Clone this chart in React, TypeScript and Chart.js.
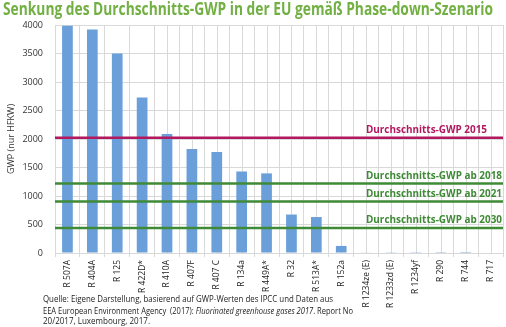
import React, { useEffect, useRef } from "react";
import { Chart, registerables } from "chart.js";

Chart.register(...registerables);

const chartTitle = "Senkung des Durchschnitts-GWP in der EU gemäß Phase-down-Szenario";
const categories = [
  "R 507A", "R 404A", "R 125", "R 422D*", "R 410A", "R 407F", "R 407 C", "R 134a", "R 449A*",
  "R 32", "R 513A*", "R 152a", "R 1234ze (E)", "R 1233zd (E)", "R 1234yf", "R 290", "R 744", "R 717",
];
const gwpValues = [3985, 3922, 3500, 2729, 2088, 1825, 1774, 1430, 1397, 675, 631, 124, 7, 5, 4, 3, 1, 0];
const yAxisTitle = "GWP (nur HFKW)";
const avgLabels = [
  "Durchschnitts-GWP 2015",
  "Durchschnitts-GWP ab 2018",
  "Durchschnitts-GWP ab 2021",
  "Durchschnitts-GWP ab 2030",
];
const avgValues = [2020, 1220, 905, 440];
const sourceLines: { text: string; italic?: boolean }[][] = [
  [{ text: "Quelle: Eigene Darstellung, basierend auf GWP-Werten des IPCC und Daten aus" }],
  [
    { text: "EEA European Environment Agency  (2017): " },
    { text: "Fluorinated greenhouse gases 2017", italic: true },
    { text: ". Report No" },
  ],
  [{ text: "20/2017, Luxembourg, 2017." }],
];

const BAR_COLOR = "#6b9fd9";
const GRID_COLOR = "#d9d9d9";
const AVG_COLORS = ["#b3185f", "#3f8a36", "#3f8a36", "#3f8a36"];
const TITLE_COLOR = "#72b043";
const FONT = '"Open Sans", sans-serif';

function drawFitted(
  ctx: CanvasRenderingContext2D,
  segs: { text: string; font: string }[],
  x: number,
  y: number,
  width: number,
  color: string
) {
  ctx.save();
  let total = 0;
  const ws = segs.map((s) => {
    ctx.font = s.font;
    const w = ctx.measureText(s.text).width;
    total += w;
    return w;
  });
  ctx.translate(x, y);
  ctx.scale(width / total, 1);
  ctx.fillStyle = color;
  ctx.textBaseline = "alphabetic";
  ctx.textAlign = "left";
  let cx = 0;
  segs.forEach((s, i) => {
    ctx.font = s.font;
    ctx.fillText(s.text, cx, 0);
    cx += ws[i];
  });
  ctx.restore();
}

const extraPlugin = {
  id: "extras",
  beforeDatasetsDraw(chart: any) {
    const { ctx, chartArea, scales } = chart;
    const xs = scales.x;
    ctx.save();
    ctx.strokeStyle = GRID_COLOR;
    ctx.lineWidth = 1;
    for (let i = 4; i < categories.length; i++) {
      const px = Math.round(xs.getPixelForValue(i)) + 0.5;
      ctx.beginPath();
      ctx.moveTo(px, chartArea.top);
      ctx.lineTo(px, chartArea.bottom);
      ctx.stroke();
    }
    ctx.restore();
  },
  afterDraw(chart: any) {
    const { ctx, chartArea, scales } = chart;
    const ys = scales.y;
    ctx.save();
    avgValues.forEach((v, i) => {
      const py = ys.getPixelForValue(v);
      ctx.strokeStyle = AVG_COLORS[i];
      ctx.lineWidth = 2.5;
      ctx.beginPath();
      ctx.moveTo(chartArea.left, py);
      ctx.lineTo(chartArea.right, py);
      ctx.stroke();
      const right = i === 0 ? 487 : 502;
      const w = i === 0 ? 121 : 136;
      drawFitted(ctx, [{ text: avgLabels[i], font: `bold 10px ${FONT}` }], right - w, py - 4.5, w, AVG_COLORS[i]);
    });
    drawFitted(ctx, [{ text: chartTitle, font: `bold 17px ${FONT}` }], 3, 15, 490, TITLE_COLOR);
    const widths = [290, 310, 107];
    const baselines = [302, 313.5, 324];
    sourceLines.forEach((line, i) => {
      drawFitted(
        ctx,
        line.map((s) => ({ text: s.text, font: `${s.italic ? "italic " : ""}9px ${FONT}` })),
        43,
        baselines[i],
        widths[i],
        "#222"
      );
    });
    ctx.restore();
  },
};

export default function App() {
  const ref = useRef<HTMLCanvasElement>(null);
  useEffect(() => {
    if (!ref.current) return;
    const chart = new Chart(ref.current, {
      type: "bar",
      data: {
        labels: categories,
        datasets: [
          {
            data: gwpValues,
            backgroundColor: BAR_COLOR,
            borderWidth: 0,
            barPercentage: 0.43,
            categoryPercentage: 1,
          },
        ],
      },
      options: {
        animation: false,
        responsive: false,
        maintainAspectRatio: false,
        layout: { padding: { top: 25, right: 3, left: 0, bottom: 0 } },
        plugins: { legend: { display: false }, tooltip: { enabled: false }, title: { display: false } },
        scales: {
          x: {
            grid: { color: GRID_COLOR, tickLength: 4, offset: true },
            border: { color: GRID_COLOR },
            ticks: {
              autoSkip: false,
              minRotation: 90,
              maxRotation: 90,
              padding: 3,
              color: "#222",
              font: { family: FONT, size: 8.5 },
            },
            afterFit: (s: any) => {
              s.height = 74;
            },
          },
          y: {
            min: 0,
            max: 4000,
            ticks: {
              stepSize: 500,
              padding: 12,
              color: "#333",
              font: { family: FONT, size: 9 },
              callback: (v: any) => String(v),
            },
            grid: { color: GRID_COLOR, drawTicks: false },
            border: { color: GRID_COLOR },
            title: {
              display: true,
              text: yAxisTitle,
              color: "#333",
              font: { family: FONT, size: 9 },
              padding: { top: 6, bottom: 0 },
            },
            afterFit: (s: any) => {
              s.width = 55;
            },
          },
        },
      },
      plugins: [extraPlugin],
    });
    return () => chart.destroy();
  }, []);
  return (
    <div style={{ position: "fixed", left: 0, top: 0, width: 506, height: 327, background: "#fff" }}>
      <canvas ref={ref} width={506} height={327} style={{ width: 506, height: 327 }} />
    </div>
  );
}
